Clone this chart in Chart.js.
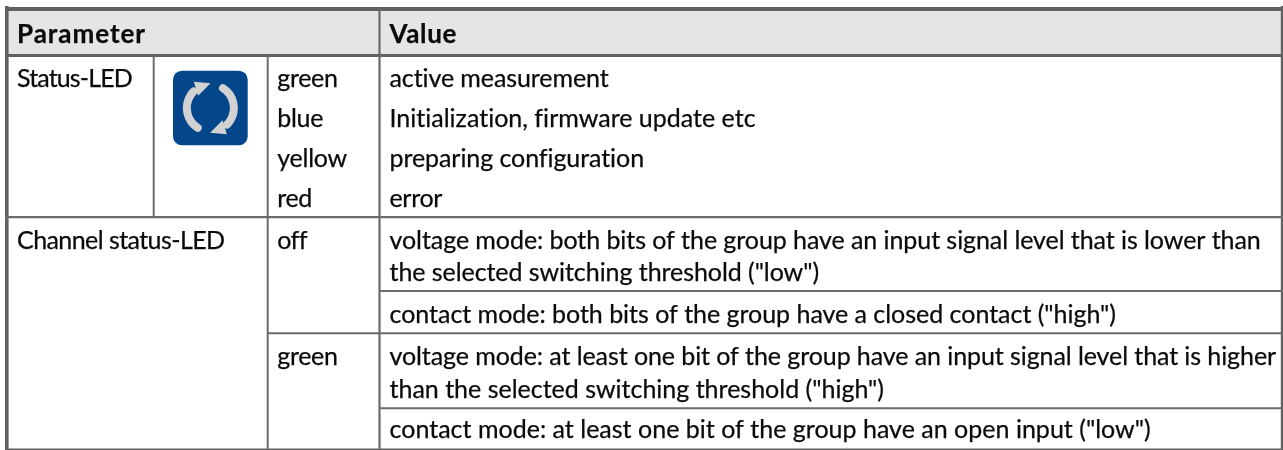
<!DOCTYPE html>
<html><head><meta charset="utf-8">
<style>html,body{margin:0;padding:0;background:#fff}canvas{display:block}</style>
<script src="https://cdn.jsdelivr.net/npm/chart.js@4"></script>
</head><body><canvas id="c" width="1283" height="450"></canvas>
<script>
// table content
const headerLabels = ["Parameter","Value"];
const paramLabels = ["Status-LED","Channel status-LED"];
const stateLabels = ["green","blue","yellow","red","off","green"];
const valueLabels = [
 "active measurement",
 "Initialization, firmware update etc",
 "preparing configuration",
 "error",
 "voltage mode: both bits of the group have an input signal level that is lower than",
 "the selected switching threshold (\"low\")",
 "contact mode: both bits of the group have a closed contact (\"high\")",
 "voltage mode: at least one bit of the group have an input signal level that is higher",
 "than the selected switching threshold (\"high\")",
 "contact mode: at least one bit of the group have an open input (\"low\")"
];
// layout, in axis units: [start x, baseline y, end x]
const headerPlace = [[17,43,146],[389.5,43,457]];
const paramPlace = [[17,87,132],[17,249,224.5]];
const statePlace = [[277.3,87,337.5],[277.3,127,323],[277.3,167,347],[277.3,207,312],[277.3,249,306],[277.3,365,337.5]];
const valuePlace = [[389.5,87,609],[389.5,127,756],[389.5,167,644],[389.5,207,442],[389.5,249,1260.7],[389.5,280.5,819],[389.5,322.5,1116],[389.5,365,1276],[389.5,397.7,884],[389.5,438.3,1150.7]];
// grid rules: [x1,y1,x2,y2,width]
const outerRules = [[6.8,6,6.8,450,3.6],[1282,6,1282,450,2.4],[5,9,1283,9,4.2],[5,449.4,1283,449.4,1.6],[5,55.5,1283,55.5,2.8]];
const innerRules = [[153.7,55,153.7,217,2],[267.7,55,267.7,450,2],[379.5,8,379.5,450,2.2],[5,217.2,1283,217.2,2.2],[380,291,1283,291,2],[267,333.2,1283,333.2,2],[380,408.3,1283,408.3,2]];
const headerBand = [8,11,1281,55];
const iconBox = [173,70.7,247.7,145.3];
const FONT = '"Lato"';

function ruleSet(list,color){
  return list.map(r=>({type:'scatter',showLine:true,pointRadius:0,borderColor:color,borderWidth:r[4],
    data:[{x:r[0],y:r[1]},{x:r[2],y:r[3]}],clip:false}));
}
const tablePlugin={id:'table',
 beforeDatasetsDraw(ch){
  const {ctx,scales:{x,y}}=ch;
  ctx.save();ctx.fillStyle='#e5e5e5';
  ctx.fillRect(x.getPixelForValue(headerBand[0]),y.getPixelForValue(headerBand[1]),
    x.getPixelForValue(headerBand[2])-x.getPixelForValue(headerBand[0]),y.getPixelForValue(headerBand[3])-y.getPixelForValue(headerBand[1]));
  ctx.restore();
 },
 afterDatasetsDraw(ch){
  const {ctx,scales:{x,y}}=ch;
  ctx.save();
  ctx.textBaseline='alphabetic';ctx.fillStyle='#0a0a0a';ctx.strokeStyle='#0a0a0a';ctx.lineWidth=0.25;
  const put=(labels,place,font)=>labels.forEach((t,i)=>{
    const [sx,by,ex]=place[i];
    ctx.font=font;ctx.letterSpacing='0px';
    const px0=x.getPixelForValue(sx),px1=x.getPixelForValue(ex);
    const w=ctx.measureText(t).width;
    ctx.letterSpacing=((px1-px0-w)/t.length).toFixed(3)+'px';
    ctx.fillText(t,px0,y.getPixelForValue(by));
    ctx.strokeText(t,px0,y.getPixelForValue(by));
  });
  put(headerLabels,headerPlace,'bold 26px '+FONT);
  put(paramLabels,paramPlace,'25px '+FONT);
  put(stateLabels,statePlace,'25px '+FONT);
  put(valueLabels,valuePlace,'25px '+FONT);
  ctx.letterSpacing='0px';
  // status icon
  const x0=x.getPixelForValue(iconBox[0]),y0=y.getPixelForValue(iconBox[1]),
        x1=x.getPixelForValue(iconBox[2]),y1=y.getPixelForValue(iconBox[3]);
  ctx.fillStyle='#03468a';ctx.beginPath();ctx.roundRect(x0,y0,x1-x0,y1-y0,9);ctx.fill();
  const cx=(x0+x1)/2,cy=(y0+y1)/2;
  ctx.translate(cx,cy);
  for(let k=0;k<2;k++){
    ctx.strokeStyle='#d2d2d2';ctx.fillStyle='#d2d2d2';ctx.lineWidth=8;ctx.lineCap='round';
    ctx.beginPath();ctx.arc(0,0,23.5,Math.PI*0.68,Math.PI*1.25);ctx.stroke();
    ctx.beginPath();ctx.moveTo(0.3,-24.7);ctx.lineTo(-16.5,-26.3);ctx.lineTo(-12.2,-12.3);ctx.closePath();ctx.fill();
    ctx.rotate(Math.PI);
  }
  ctx.restore();
 }};
new Chart(document.getElementById('c'),{
 type:'scatter',
 data:{datasets:[...ruleSet(innerRules,'#6b6b6b'),...ruleSet(outerRules,'#616161')]},
 options:{responsive:false,animation:false,layout:{padding:0},
  plugins:{legend:{display:false},tooltip:{enabled:false},title:{display:false}},
  scales:{x:{type:'linear',min:0,max:1283,display:false},y:{type:'linear',min:0,max:450,reverse:true,display:false}}},
 plugins:[tablePlugin]
});
</script></body></html>
